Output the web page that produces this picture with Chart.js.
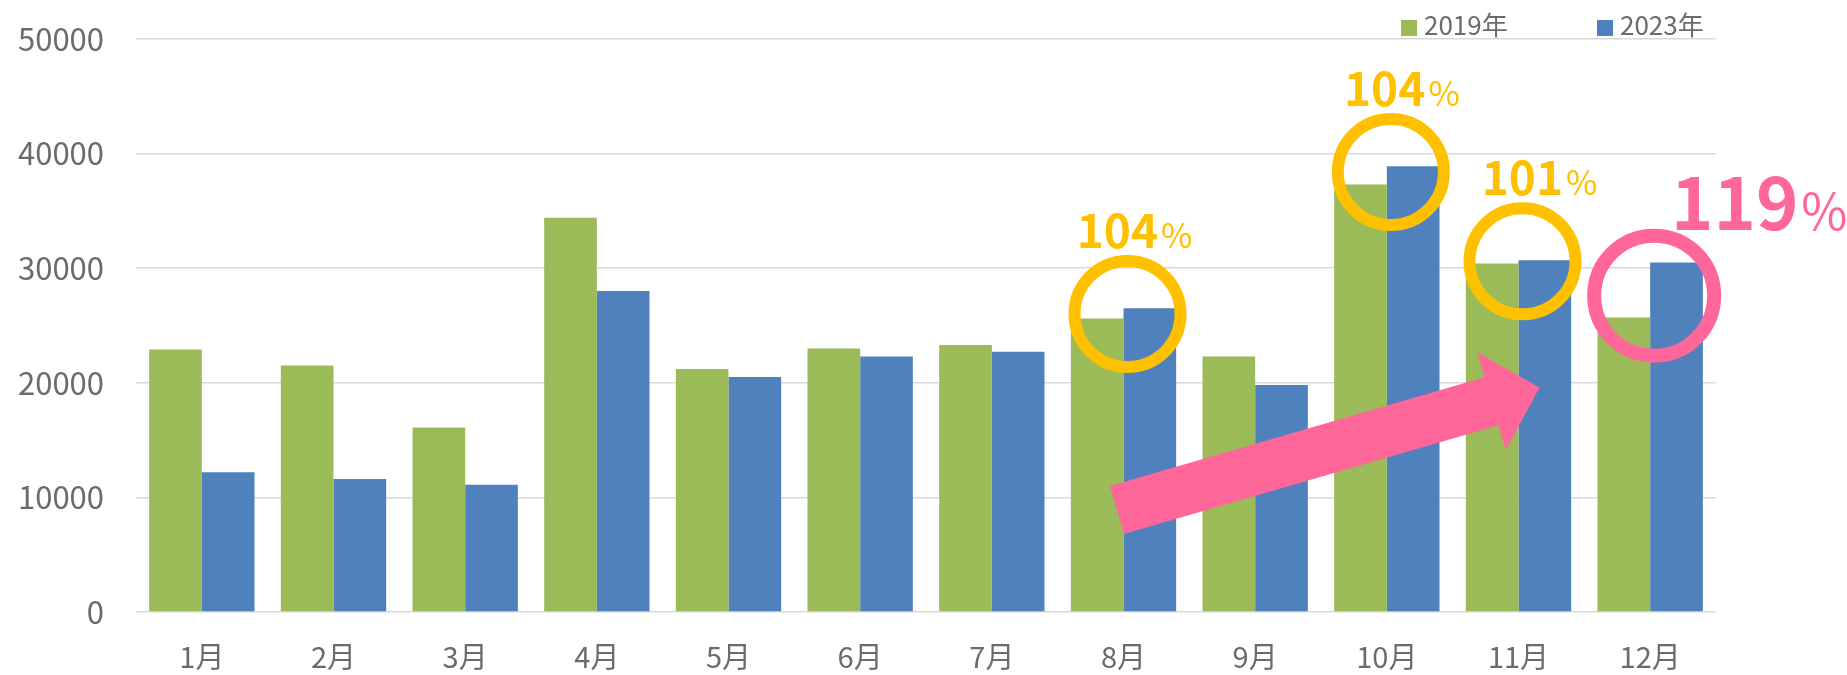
<!DOCTYPE html>
<html lang="ja">
<head>
<meta charset="utf-8">
<script src="https://cdn.jsdelivr.net/npm/chart.js@4.4.1/dist/chart.umd.min.js"></script>
<style>
  html, body { margin: 0; padding: 0; background: #fff; }
  #wrap { width: 1847px; height: 675px; }
</style>
</head>
<body>
<div id="wrap"><canvas id="chart"></canvas></div>
<script>
const months = ['1月', '2月', '3月', '4月', '5月', '6月', '7月', '8月', '9月', '10月', '11月', '12月'];
const sales2019 = [22900, 21500, 16100, 34400, 21200, 23000, 23300, 25600, 22300, 37300, 30400, 25700];
const sales2023 = [12200, 11600, 11100, 28000, 20500, 22300, 22700, 26500, 19800, 38900, 30700, 30500];
const yTicks = [0, 10000, 20000, 30000, 40000, 50000];

// 丸で囲む月と前年比
const markMonths = ['8月', '10月', '11月', '12月'];
const markValues = [26000, 38400, 30600, 27600];
const markRates = ['104', '104', '101', '119'];

// 矢印の始点・終点 (月の位置, 値)
const arrowFrom = [6.95, 8900];
const arrowTo = [10.16, 19600];

const FONT = '"Noto Sans CJK JP", "Noto Sans", sans-serif';
const GREY = '#6b6b6b';
const YELLOW = '#FFC000';
const PINK = '#FF6699';

const legendPlugin = {
    id: 'cornerLegend',
    afterDraw(chart) {
        const ctx = chart.ctx;
        const area = chart.chartArea;
        ctx.save();
        ctx.font = '26px ' + FONT;
        ctx.textBaseline = 'alphabetic';
        chart.data.datasets.forEach((ds, i) => {
            const x = area.right - 315 + i * 196;
            ctx.fillStyle = ds.backgroundColor;
            ctx.fillRect(x, 20, 16, 16);
            ctx.fillStyle = GREY;
            ctx.fillText(ds.label, x + 23, 35);
        });
        ctx.restore();
    }
};

const markPlugin = {
    id: 'marks',
    afterDatasetsDraw(chart) {
        const ctx = chart.ctx;
        const x = chart.scales.x;
        const y = chart.scales.y;
        const textDx = [7, 11, 17, 105];
        ctx.save();

        // 矢印
        const x0 = x.getPixelForValue(arrowFrom[0]), y0 = y.getPixelForValue(arrowFrom[1]);
        const x1 = x.getPixelForValue(arrowTo[0]), y1 = y.getPixelForValue(arrowTo[1]);
        const len = Math.hypot(x1 - x0, y1 - y0);
        ctx.translate(x0, y0);
        ctx.rotate(Math.atan2(y1 - y0, x1 - x0));
        ctx.fillStyle = PINK;
        ctx.beginPath();
        ctx.moveTo(0, -25);
        ctx.lineTo(len - 50, -25);
        ctx.lineTo(len - 50, -51);
        ctx.lineTo(len, 0);
        ctx.lineTo(len - 50, 51);
        ctx.lineTo(len - 50, 25);
        ctx.lineTo(0, 25);
        ctx.closePath();
        ctx.fill();
        ctx.setTransform(1, 0, 0, 1, 0, 0);

        markMonths.forEach((m, i) => {
            const big = i === markMonths.length - 1;
            const color = big ? PINK : YELLOW;
            const cx = x.getPixelForValue(months.indexOf(m)) + 4;
            const cy = y.getPixelForValue(markValues[i]);

            ctx.strokeStyle = color;
            ctx.lineWidth = big ? 14 : 12;
            ctx.beginPath();
            ctx.arc(cx, cy, big ? 60 : 53, 0, Math.PI * 2);
            ctx.stroke();

            const numFont = (big ? 'bold 72px ' : 'bold 46px ') + FONT;
            const pctFont = (big ? '50px ' : '34px ') + FONT;
            ctx.font = numFont;
            const wNum = ctx.measureText(markRates[i]).width;
            ctx.font = pctFont;
            const wPct = ctx.measureText('%').width;
            const tx = cx + textDx[i] - (wNum + wPct + 3) / 2;
            const ty = cy - 66;
            ctx.fillStyle = color;
            ctx.textBaseline = 'alphabetic';
            ctx.textAlign = 'left';
            ctx.font = numFont;
            ctx.fillText(markRates[i], tx, ty);
            ctx.font = pctFont;
            ctx.fillText('%', tx + wNum + 3, ty);
        });
        ctx.restore();
    }
};

new Chart(document.getElementById('chart'), {
    type: 'bar',
    data: {
        labels: months,
        datasets: [{
            label: '2019年',
            data: sales2019,
            backgroundColor: '#9BBB59',
            categoryPercentage: 0.8,
            barPercentage: 1.0
        }, {
            label: '2023年',
            data: sales2023,
            backgroundColor: '#4F81BD',
            categoryPercentage: 0.8,
            barPercentage: 1.0
        }]
    },
    options: {
        responsive: true,
        maintainAspectRatio: false,
        animation: false,
        layout: { padding: { top: 39, right: 131, bottom: 0, left: 0 } },
        plugins: {
            legend: { display: false },
            tooltip: { enabled: false }
        },
        scales: {
            x: {
                grid: { display: false },
                border: { display: false },
                ticks: { color: GREY, font: { family: FONT, size: 29 }, padding: 20 },
                afterFit(scale) { scale.height = 63; }
            },
            y: {
                min: 0,
                max: 50000,
                afterBuildTicks(scale) { scale.ticks = yTicks.map(v => ({ value: v })); },
                grid: { color: '#D9D9D9', lineWidth: 1.5, drawTicks: false },
                border: { display: false },
                ticks: {
                    color: GREY,
                    font: { family: FONT, size: 31 },
                    padding: 32,
                    callback: v => String(v)
                },
                afterFit(scale) {
                    scale.width = 136;
                    scale.paddingTop = 0;
                    scale.paddingBottom = 0;
                }
            }
        }
    },
    plugins: [legendPlugin, markPlugin]
});
</script>
</body>
</html>
